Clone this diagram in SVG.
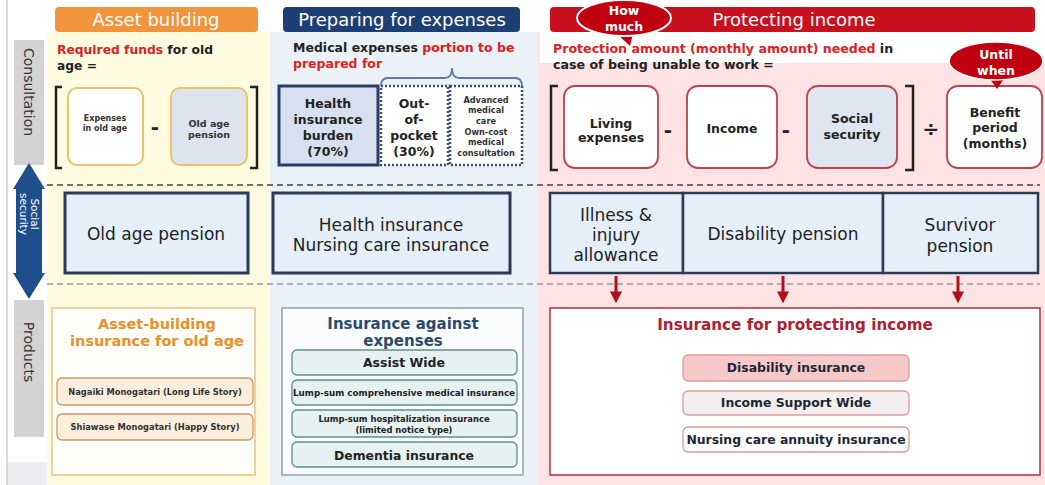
<svg xmlns="http://www.w3.org/2000/svg" width="1045" height="485" viewBox="0 0 1045 485">
<defs>
<style>
text{font-family:"DejaVu Sans","Liberation Sans",sans-serif;}
.b{font-weight:bold;}
.c{text-anchor:middle;}
.side{fill:#d3d3d3;}
.sidet{font-size:14px;fill:#333;}
.ssbox{fill:#e5eff9;stroke:#2b3a55;stroke-width:3;}
.sst{font-size:17px;fill:#222;text-anchor:middle;}
.brk{fill:none;stroke:#222;stroke-width:2.5;}
.obox{fill:#fff;stroke:#eec368;stroke-width:2;}
.rbox{fill:#fff;stroke:#c0404c;stroke-width:1.8;}
.ft{font-size:12.5px;font-weight:bold;fill:#222;text-anchor:middle;}
.op{font-size:20px;font-weight:bold;fill:#222;text-anchor:middle;}
.ay{fill:#fbeedd;stroke:#c89868;stroke-width:1.3;}
.ayt{font-size:8.3px;font-weight:bold;fill:#333;text-anchor:middle;}
.ex{fill:#e6f2f2;stroke:#5f8e92;stroke-width:1.3;}
.ext{font-weight:bold;fill:#222;text-anchor:middle;}
.pi{stroke:#d99;stroke-width:1.3;}
.pit{font-size:12.4px;font-weight:bold;fill:#1c2733;text-anchor:middle;}
.hdr{font-size:18px;fill:#fff;text-anchor:middle;}
.arr{stroke:#b0101c;stroke-width:3;fill:none;}
</style>
<marker id="ah" markerWidth="4" markerHeight="4" refX="2.2" refY="2" orient="auto" markerUnits="strokeWidth">
<path d="M0,0 L4,2 L0,4 z" fill="#b0101c"/>
</marker>
</defs>
<rect width="1045" height="485" fill="#fff"/>
<rect x="7" y="462" width="40" height="23" fill="#eceef1"/>
<line x1="7" y1="0" x2="7" y2="485" stroke="#cfcfcf" stroke-width="1.5"/>

<!-- column backgrounds -->
<rect x="47" y="32" width="222" height="453" fill="#fffbe1"/>
<rect x="270" y="32" width="267" height="453" fill="#eaf2f8"/>
<rect x="537" y="63" width="508" height="422" fill="#fde3e3"/>
<rect x="537" y="32" width="3" height="31" fill="#fde3e3"/>

<!-- side labels -->
<g id="side-consultation">
<rect class="side" x="14" y="40" width="30" height="125"/>
<text class="sidet c" transform="translate(29,92) rotate(90)" dy="5">Consultation</text>
</g>
<g id="side-social-security">
<polygon points="29,163 45,189 42,189 42,273 45,273 29,299 13,273 16,273 16,189 13,189" fill="#1f4e8c"/>
<text class="c" font-size="10.5" fill="#fff" transform="translate(29,214) rotate(90)"><tspan x="0" y="-2">Social</tspan><tspan x="0" y="9">security</tspan></text>
</g>
<g id="side-products">
<rect class="side" x="14" y="300" width="30" height="137"/>
<text class="sidet c" transform="translate(29,352) rotate(90)" dy="5">Products</text>
</g>

<!-- headers -->
<g id="hdr-asset">
<rect x="55" y="7" width="203" height="25" rx="4" fill="#f2943c"/>
<text class="hdr" x="156" y="26">Asset building</text>
</g>
<g id="hdr-expenses">
<rect x="283" y="7" width="237" height="25" rx="4" fill="#1e3f73"/>
<text class="hdr" x="402" y="26">Preparing for expenses</text>
</g>
<g id="hdr-income">
<rect x="550" y="7" width="485" height="25" rx="4" fill="#c8101e"/>
<text class="hdr" x="794" y="26">Protecting income</text>
</g>
<g id="bubble-how-much">
<path d="M617,34 L630,46 L633,34 z" fill="#c00010"/>
<ellipse cx="624" cy="18" rx="47" ry="18" fill="#c00010" stroke="#fff" stroke-width="2"/>
<text class="c b" x="624" y="15" font-size="12.5" fill="#fff">How</text>
<text class="c b" x="624" y="31" font-size="12.5" fill="#fff">much</text>
</g>

<!-- consultation: asset building -->
<text class="b" x="57" y="54" font-size="12.3" fill="#222"><tspan fill="#e02020">Required funds</tspan> for old</text>
<text class="b" x="57" y="70" font-size="12.3" fill="#222">age =</text>
<path class="brk" d="M62,87 H56 V168 H62"/>
<path class="brk" d="M250,87 H257 V168 H250"/>
<g id="f-expenses-old-age">
<rect class="obox" x="68" y="88" width="75" height="77" rx="9"/>
<text class="c b" x="105" y="121" font-size="8" fill="#333">Expenses</text>
<text class="c b" x="105" y="131" font-size="8" fill="#333">in old age</text>
</g>
<text class="op" x="155" y="134">-</text>
<g id="f-old-age-pension">
<rect class="obox" x="171" y="88" width="76" height="77" rx="9" style="fill:#dde3ef"/>
<text class="c b" x="209" y="127" font-size="9.5" fill="#333">Old age</text>
<text class="c b" x="209" y="138" font-size="9.5" fill="#333">pension</text>
</g>

<!-- consultation: expenses -->
<text class="b" x="293" y="52" font-size="12.5" fill="#222">Medical expenses <tspan fill="#e02020">portion to be</tspan></text>
<text class="b" x="293" y="68" font-size="12.5" fill="#e02020">prepared for</text>
<path d="M381,86 Q381,78 388,78 H445 Q452,78 452,68 Q452,78 459,78 H515 Q522,78 522,86" fill="none" stroke="#5d7c9c" stroke-width="1.8"/>
<g id="f-health-burden">
<rect x="279" y="86" width="99" height="79" fill="#d6e0f0" stroke="#2a3d66" stroke-width="3"/>
<text class="c b" x="328" y="108" font-size="12.5" fill="#222">Health</text>
<text class="c b" x="328" y="124" font-size="12.5" fill="#222">insurance</text>
<text class="c b" x="328" y="140" font-size="12.5" fill="#222">burden</text>
<text class="c b" x="328" y="156" font-size="12.5" fill="#222">(70%)</text>
</g>
<g id="f-out-of-pocket">
<rect x="381" y="86" width="67" height="79" fill="#fff" stroke="#3a4d70" stroke-width="2.5" stroke-dasharray="2 2"/>
<text class="c b" x="414" y="108" font-size="12.5" fill="#222">Out-</text>
<text class="c b" x="414" y="124" font-size="12.5" fill="#222">of-</text>
<text class="c b" x="414" y="140" font-size="12.5" fill="#222">pocket</text>
<text class="c b" x="414" y="156" font-size="12.5" fill="#222">(30%)</text>
</g>
<g id="f-advanced">
<rect x="450" y="86" width="72" height="79" fill="#fff" stroke="#3a4d70" stroke-width="2.5" stroke-dasharray="2 2"/>
<text class="c b" x="486" y="103" font-size="8.2" fill="#333">Advanced</text>
<text class="c b" x="486" y="113" font-size="8.2" fill="#333">medical</text>
<text class="c b" x="486" y="124" font-size="8.2" fill="#333">care</text>
<text class="c b" x="486" y="135" font-size="8.2" fill="#333">Own-cost</text>
<text class="c b" x="486" y="145" font-size="8.2" fill="#333">medical</text>
<text class="c b" x="486" y="156" font-size="8.2" fill="#333">consultation</text>
</g>

<!-- consultation: income -->
<text class="b" x="553" y="53" font-size="12.6" fill="#222"><tspan fill="#e02020">Protection amount (monthly amount) needed</tspan> in</text>
<text class="b" x="553" y="69" font-size="12.6" fill="#222">case of being unable to work =</text>
<path class="brk" d="M558,86 H551 V170 H558"/>
<path class="brk" d="M905,86 H913 V170 H905"/>
<g id="f-living">
<rect class="rbox" x="564" y="86" width="94" height="82" rx="11"/>
<text class="ft" x="611" y="128">Living</text>
<text class="ft" x="611" y="142">expenses</text>
</g>
<text class="op" x="668" y="137">-</text>
<g id="f-income">
<rect class="rbox" x="687" y="86" width="90" height="82" rx="11"/>
<text class="ft" x="732" y="133">Income</text>
</g>
<text class="op" x="786" y="137">-</text>
<g id="f-social">
<rect class="rbox" x="807" y="86" width="90" height="82" rx="11" style="fill:#dfe6f2"/>
<text class="ft" x="852" y="123">Social</text>
<text class="ft" x="852" y="139">security</text>
</g>
<text class="op" x="931" y="136">÷</text>
<g id="f-benefit">
<rect class="rbox" x="947" y="86" width="95" height="82" rx="11"/>
<text class="ft" x="995" y="117">Benefit</text>
<text class="ft" x="995" y="132">period</text>
<text class="ft" x="995" y="148">(months)</text>
</g>
<g id="bubble-until-when">
<path d="M988,76 L997,89 L1006,76 z" fill="#c00010"/>
<ellipse cx="996" cy="61" rx="47" ry="19" fill="#c00010" stroke="#fff" stroke-width="1.5"/>
<text class="c b" x="996" y="59" font-size="12.5" fill="#fff">Until</text>
<text class="c b" x="996" y="75" font-size="12.5" fill="#fff">when</text>
</g>

<!-- separators -->
<line x1="47" y1="185" x2="1040" y2="185" stroke="#444" stroke-width="1.5" stroke-dasharray="6 4"/>
<line x1="47" y1="284" x2="1040" y2="284" stroke="#9a9a9a" stroke-width="1.3" stroke-dasharray="6 4"/>

<!-- social security row -->
<g id="ss-old-age-pension">
<rect class="ssbox" x="65" y="193" width="183" height="80"/>
<text class="sst" x="156" y="240">Old age pension</text>
</g>
<g id="ss-health">
<rect class="ssbox" x="273" y="193" width="237" height="80"/>
<text class="sst" x="391" y="231">Health insurance</text>
<text class="sst" x="391" y="251">Nursing care insurance</text>
</g>
<g id="ss-illness">
<rect class="ssbox" x="550" y="193" width="133" height="80" style="stroke-width:2.5"/>
<text class="sst" x="616" y="221">Illness &amp;</text>
<text class="sst" x="616" y="241">injury</text>
<text class="sst" x="616" y="261">allowance</text>
</g>
<g id="ss-disability">
<rect class="ssbox" x="683" y="193" width="200" height="80" style="stroke-width:2.5"/>
<text class="sst" x="783" y="240">Disability pension</text>
</g>
<g id="ss-survivor">
<rect class="ssbox" x="883" y="193" width="155" height="80" style="stroke-width:2.5"/>
<text class="sst" x="960" y="231">Survivor</text>
<text class="sst" x="960" y="252">pension</text>
</g>

<!-- connectors -->
<g id="connectors">
<line class="arr" x1="616" y1="276" x2="616" y2="298" marker-end="url(#ah)"/>
<line class="arr" x1="783" y1="276" x2="783" y2="298" marker-end="url(#ah)"/>
<line class="arr" x1="958" y1="276" x2="958" y2="298" marker-end="url(#ah)"/>
</g>

<!-- products -->
<g id="p-asset">
<rect x="52" y="308" width="203" height="167" fill="#fffefa" stroke="#e9bb6a" stroke-width="1.3"/>
<text class="c b" x="157" y="329" font-size="14.5" fill="#e8902a">Asset-building</text>
<text class="c b" x="157" y="346" font-size="14.5" fill="#e8902a">insurance for old age</text>
</g>
<g id="p-nagaiki">
<rect class="ay" x="57" y="378" width="196" height="27" rx="5"/>
<text class="ayt" x="155" y="395">Nagaiki Monogatari (Long Life Story)</text>
</g>
<g id="p-shiawase">
<rect class="ay" x="57" y="414" width="196" height="26" rx="5"/>
<text class="ayt" x="155" y="430">Shiawase Monogatari (Happy Story)</text>
</g>

<g id="p-expenses">
<rect x="282" y="308" width="241" height="167" fill="#fafcfe" stroke="#7f96aa" stroke-width="1.3"/>
<text class="c b" x="403" y="329" font-size="15" fill="#2b4a6e">Insurance against</text>
<text class="c b" x="403" y="346" font-size="15" fill="#2b4a6e">expenses</text>
</g>
<g id="p-assist">
<rect class="ex" x="292" y="350" width="225" height="25" rx="5"/>
<text class="ext" x="404" y="367" font-size="12.5">Assist Wide</text>
</g>
<g id="p-lumpsum-comp">
<rect class="ex" x="292" y="380" width="225" height="25" rx="5"/>
<text class="ext" x="404" y="396" font-size="8.4" textLength="222" lengthAdjust="spacingAndGlyphs">Lump-sum comprehensive medical insurance</text>
</g>
<g id="p-lumpsum-hosp">
<rect class="ex" x="292" y="410" width="225" height="27" rx="5"/>
<text class="ext" x="404" y="422" font-size="8.4">Lump-sum hospitalization insurance</text>
<text class="ext" x="404" y="433" font-size="8.4">(limited notice type)</text>
</g>
<g id="p-dementia">
<rect class="ex" x="292" y="442" width="225" height="25" rx="5"/>
<text class="ext" x="404" y="460" font-size="12.4">Dementia insurance</text>
</g>

<g id="p-income">
<rect x="550" y="308" width="490" height="167" fill="#fff" stroke="#b03040" stroke-width="1.5"/>
<text class="c b" x="795" y="330" font-size="15.2" fill="#b02030">Insurance for protecting income</text>
</g>
<g id="p-disability">
<rect class="pi" x="683" y="355" width="226" height="26" rx="5" fill="#f7c8c8"/>
<text class="pit" x="796" y="372">Disability insurance</text>
</g>
<g id="p-income-support">
<rect class="pi" x="683" y="391" width="226" height="24" rx="5" fill="#f3eef0"/>
<text class="pit" x="796" y="407">Income Support Wide</text>
</g>
<g id="p-nursing">
<rect class="pi" x="683" y="427" width="226" height="25" rx="5" fill="#fff"/>
<text class="pit" x="796" y="444">Nursing care annuity insurance</text>
</g>
</svg>
